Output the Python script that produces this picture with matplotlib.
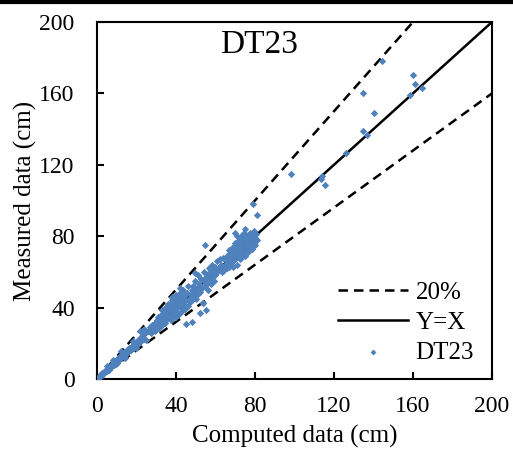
import matplotlib
matplotlib.use('Agg')
import matplotlib.pyplot as plt
from matplotlib.lines import Line2D

plt.rcParams['font.family'] = ['Liberation Serif', 'DejaVu Serif']

# computed (x) vs measured (y) depths, cm
tailComputed = [0.3, 0.6, 0.9, 1.2, 1.5, 1.8, 2.1, 2.5, 2.8, 3.2, 3.6, 4.0, 4.3, 4.7, 5.1, 5.5, 5.9,
                6.3, 6.8, 7.2, 7.6, 8.1, 8.5, 9.0, 9.4, 9.9, 10.4, 10.9, 11.3, 11.8, 12.4, 12.9, 13.5,
                14.0, 14.6, 15.2, 15.8, 16.4, 17.0, 17.6, 18.3, 18.9, 19.6, 20.2, 20.9, 21.6, 22.3,
                23.0, 23.8, 24.5, 5.0, 8.0, 12.0, 14.0, 18.0, 20.0, 22.0, 25.0, 24.0, 10.0]
tailMeasured = [0.5, 0.4, 1.2, 1.0, 1.8, 1.5, 2.6, 2.2, 3.3, 2.9, 3.9, 4.6, 3.8, 5.2, 4.6, 6.1, 5.3,
                6.9, 6.0, 7.8, 7.0, 8.9, 7.9, 9.8, 8.6, 10.7, 9.6, 11.8, 10.5, 12.6, 11.6, 13.9, 12.6,
                14.8, 13.9, 16.3, 14.9, 17.5, 16.0, 18.6, 17.3, 20.1, 18.4, 21.5, 19.8, 22.9, 21.0,
                24.2, 22.6, 25.8, 7.5, 10.5, 15.5, 12.0, 21.0, 17.5, 27.0, 22.0, 28.0, 8.7]

lowComputed = [26, 27, 27.5, 28, 28.5, 29, 29.5, 30, 30, 30.5, 31, 31, 31.5, 32, 32, 32.5, 33, 33,
               33.5, 34, 34, 34.5, 35, 35, 35.5, 36, 36, 36.5, 37, 37, 37.5, 38, 38, 38.5, 39, 39,
               39.5, 40, 40, 40.5, 41, 41, 41.5, 42, 42, 42.5, 43, 43, 43.5, 44, 44, 44.5, 45, 45,
               45.5, 46, 46, 46.5, 47, 47.5, 48, 48, 37.5, 39, 40, 35, 33, 38, 42,
               36, 37, 39, 41, 43, 40, 38, 44]
lowMeasured = [27, 29, 25.5, 30, 28, 31, 27, 32, 29.5, 33, 30, 35, 28.5, 33.5, 31, 36, 30, 34,
               32, 37, 35, 31.5, 38, 33, 36, 40, 34.5, 38.5, 42, 36, 39.5, 44, 37.5, 41, 45, 39,
               42.5, 47, 38, 44, 41, 46, 36.5, 43, 48, 40, 45, 38, 50, 42, 46.5, 39, 44, 31,
               48, 41, 52, 45, 43, 47, 32, 50, 33, 35.5, 34.5, 40.5, 38.5, 46, 51,
               42, 40, 43, 43.5, 41.5, 41, 42, 44]

midComputed = [48, 48.5, 49, 49.5, 50, 50, 50.5, 51, 51, 51.5, 52, 52.5, 53, 53.5, 54, 54, 54.5,
               55, 55, 55.5, 56, 56, 56.5, 57, 57.5, 58, 58, 58.5, 59, 59.5, 60, 60, 61, 61, 62,
               62.5, 63, 63.5, 64, 64, 54.7, 49.6, 53.7, 52]
midMeasured = [44, 52, 47, 55, 49, 45, 51, 58, 47.5, 53, 49, 56, 51, 42.5, 55, 60, 52,
               57, 38.5, 54, 59, 50, 62, 56, 53, 60, 64, 57, 61, 55, 63, 58, 66, 60, 62,
               67, 64, 60, 68, 63, 75, 59.4, 42.6, 37]

highComputed = [64.5, 65, 65.5, 66, 66, 66.5, 67, 67, 67.5, 68, 68, 68.5, 69, 69, 69.5, 70, 70,
                70.5, 71, 71, 71.5, 72, 72, 72.5, 73, 73, 73.5, 74, 74, 74.5, 75, 75, 75.5, 76,
                76, 76.5, 77, 77, 77.5, 78, 78, 78.5, 79, 79, 79.5, 80, 80, 80.5, 81, 70, 72, 74,
                76, 68, 66, 71, 73, 75, 77, 67, 69, 73, 75, 71, 70, 79.1, 81.2,
                72, 74, 76, 78, 70, 68, 73, 77]
highMeasured = [61, 64, 67, 62, 69, 65, 63, 70, 67, 72, 65, 69, 63, 74, 71, 67, 76,
                73, 69, 64, 75, 71, 78, 67, 74, 80, 70, 76, 72, 82, 78, 69, 74, 80,
                76, 71, 78, 74, 82, 76, 79, 73, 81, 77, 83, 79, 75, 81, 78, 70, 74, 78,
                74, 67, 66, 72, 76, 72, 80, 72, 66, 68, 84, 80, 82, 97.9, 91.9,
                76, 80, 78, 81, 73, 70, 72, 76]

outComputed = [98.4, 113.8, 113.4, 115.4, 126.2, 134.7, 136.9, 140.1, 134.8, 158.6, 164.5,
               161.0, 160.2, 144.1]
outMeasured = [114.8, 113.9, 111.9, 108.8, 126.8, 139.1, 136.9, 149.2, 160.0, 159.1, 163.0,
               165.1, 170.1, 178.1]

computed = tailComputed + lowComputed + midComputed + highComputed + outComputed
measured = tailMeasured + lowMeasured + midMeasured + highMeasured + outMeasured

lineX = [0, 200]
upperBound = [0, 250]   # Y = X / 0.8
lowerBound = [0, 160]   # Y = 0.8 X

fig = plt.figure(figsize=(5.13, 4.53), dpi=100)
ax = fig.add_axes([0.189, 0.1634, 0.77, 0.788])

ax.plot(lineX, upperBound, color='black', lw=1.8, dashes=(3.8, 2.4), label='20%')
ax.plot(lineX, lowerBound, color='black', lw=1.8, dashes=(3.8, 2.4))
ax.plot(lineX, lineX, color='black', lw=1.8, label='Y=X')
ax.scatter(computed, measured, marker='D', s=14, color='#4F81BD', linewidths=0, label='DT23',
           zorder=3)

ax.set_xlim(0, 200)
ax.set_ylim(0, 200)
ax.set_xticks(range(0, 201, 40))
ax.set_yticks(range(0, 201, 40))
ax.tick_params(direction='in', length=5, width=1.5, labelsize=17)
ax.tick_params(axis='x', pad=12)
ax.tick_params(axis='y', pad=16)
for s in ax.spines.values():
    s.set_linewidth(1.5)

ax.set_xlabel('Computed data (cm)', fontsize=18, labelpad=6)
ax.set_ylabel('Measured data (cm)', fontsize=18, labelpad=2)
ax.text(0.41, 0.935, 'DT23', transform=ax.transAxes, fontsize=24, ha='center', va='center')

ax.legend(loc='lower right', bbox_to_anchor=(0.98, 0.015), frameon=False, fontsize=18,
          handlelength=2.8, handletextpad=0.3, labelspacing=0.3, borderaxespad=0,
          markerscale=0.8)

# black rule along the top edge
fig.add_artist(Line2D([0, 1], [0.996, 0.996], color='black', lw=3, transform=fig.transFigure))

fig.savefig('out.png', dpi=100)
